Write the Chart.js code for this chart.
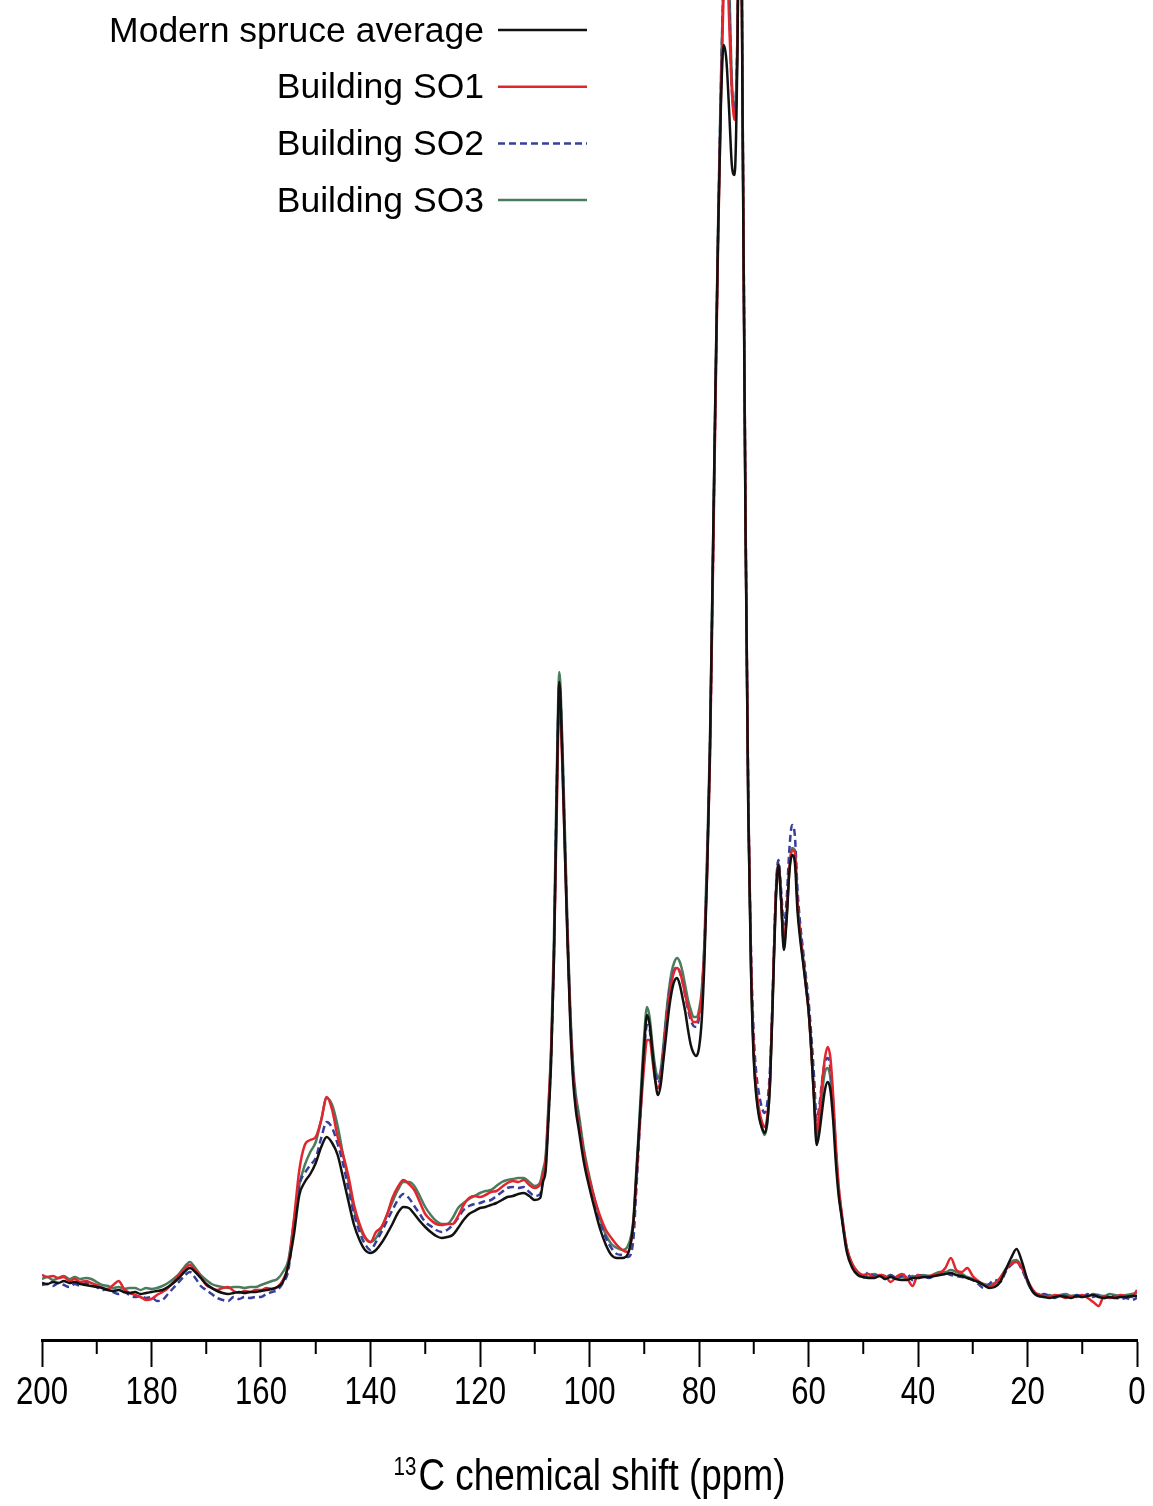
<!DOCTYPE html>
<html>
<head>
<meta charset="utf-8">
<title>13C CP/MAS NMR spectra</title>
<script src="https://cdn.jsdelivr.net/npm/chart.js@4.4.1/dist/chart.umd.min.js"></script>
<style>
  html, body { margin: 0; padding: 0; background: #fff; }
  #wrap { width: 1153px; height: 1506px; }
</style>
</head>
<body>
<div id="wrap"><canvas id="spectrum" width="1153" height="1506"></canvas></div>
<script>
// chemical shift grid (ppm), finer steps where the peaks are sharp
const shift = [
  200, 199, 198, 197, 196, 195, 194, 193, 192, 191,
  190, 189, 188, 187, 186, 185, 184, 183, 182, 181,
  180, 179, 178, 177, 176, 175, 174, 173, 172, 171,
  170, 169, 168, 167, 166, 165, 164, 163, 162, 161,
  160, 159, 158, 157, 156, 155, 154, 153, 152, 151,
  150, 149, 148, 147, 146, 145, 144, 143, 142, 141,
  140, 139, 138, 137, 136, 135, 134, 133, 132, 131,
  130, 129, 128, 127, 126, 125, 124, 123, 122, 121,
  120, 119, 118, 117, 116, 115, 114, 113, 112, 111,
  110, 109,
  108.5, 108, 107.5, 107, 106.5, 106, 105.5, 105, 104.5, 104, 103.5, 103, 102.5, 102,
  101, 100, 99, 98, 97, 96, 95, 94, 93, 92,
  91.5, 91, 90.5, 90, 89.5, 89, 88.5, 88, 87.5, 87,
  86.5, 86, 85.5, 85, 84.5, 84, 83.5, 83, 82.5, 82,
  81.5, 81, 80.5, 80, 79.5, 79, 78.5, 78, 77.5, 77,
  76.5, 76, 75.5, 75, 74.5, 74, 73.5, 73, 72.5, 72,
  71.5, 71, 70.5, 70, 69.5, 69, 68.5, 68, 67.5, 67,
  66.5, 66, 65.5, 65, 64.5, 64, 63.5, 63, 62.5, 62,
  61.5, 61, 60.5, 60, 59.5, 59, 58.5, 58, 57.5, 57,
  56.5, 56, 55.5, 55, 54.5, 54,
  53, 52, 51, 50, 49, 48, 47, 46, 45, 44,
  43, 42, 41, 40, 39, 38, 37, 36, 35, 34,
  33, 32, 31, 30, 29, 28, 27, 26, 25, 24,
  23, 22, 21, 20, 19, 18, 17, 16, 15, 14,
  13, 12, 11, 10, 9, 8, 7, 6, 5, 4,
  3, 2, 1, 0
];

// intensities (a.u.)
const modernSpruce = [
  1.7, 1.6, 1.8, 1.7, 1.9, 1.7, 1.8, 1.6, 1.5, 1.4,
  1.3, 1.2, 1.0, 0.9, 1.0, 0.8, 0.7, 0.8, 0.6, 0.7,
  0.8, 0.9, 1.0, 1.3, 1.7, 2.2, 2.8, 3.2, 2.8, 2.2,
  1.6, 1.2, 0.9, 0.7, 0.6, 0.7, 0.8, 0.7, 0.8, 0.8,
  0.9, 1.0, 1.1, 1.3, 1.8, 3.5, 6.5, 10.5, 11.8, 12.6,
  13.7, 15.3, 16.3, 15.7, 14.5, 12.2, 9.8, 7.5, 6.0, 5.0,
  4.7, 5.0, 5.7, 6.6, 7.6, 8.7, 9.3, 9.2, 8.6, 7.9,
  7.3, 6.8, 6.4, 6.2, 6.3, 6.5, 7.2, 8.0, 8.6, 8.9,
  9.2, 9.3, 9.5, 9.7, 10.0, 10.3, 10.4, 10.6, 10.7, 10.4,
  10.0, 10.2,
  11.8, 13.0, 18.0, 24.0, 34.0, 50.0, 61.8, 55.0, 45.0, 35.5, 27.5, 22.0, 19.0, 17.2,
  13.7, 11.2, 9.0, 7.0, 5.5, 4.5, 4.2, 4.2, 4.6, 7.7,
  12.0, 16.5, 21.0, 25.5, 28.5, 27.5, 24.8, 22.0, 20.5, 21.5,
  24.0, 26.5, 29.0, 30.8, 31.9, 32.2, 31.5, 30.2, 28.8, 27.0,
  25.5, 24.7, 24.4, 25.2, 28.0, 34.0, 43.0, 55.0, 73.0, 91.0,
  107.0, 119.5, 125.5, 124.0, 119.0, 113.5, 112.5, 124.0, 150.0, 115.0,
  77.0, 49.0, 33.0, 24.0, 20.2, 18.2, 17.2, 16.7, 18.0, 22.0,
  30.5, 39.5, 43.5, 40.0, 35.0, 38.0, 42.8, 44.5, 43.8, 38.8,
  36.0, 33.8, 31.5, 29.0, 25.2, 20.0, 15.5, 16.8, 19.0, 21.0,
  21.8, 21.0, 18.0, 13.7, 10.5, 8.5,
  4.8, 3.2, 2.5, 2.3, 2.2, 2.2, 2.4, 2.1, 2.3, 2.1,
  2.0, 2.0, 2.2, 2.2, 2.3, 2.3, 2.4, 2.5, 2.6, 2.7,
  2.5, 2.4, 2.2, 2.0, 1.8, 1.5, 1.2, 1.3, 1.8, 3.0,
  4.2, 5.1, 3.8, 2.0, 0.8, 0.4, 0.3, 0.2, 0.3, 0.4,
  0.3, 0.2, 0.4, 0.3, 0.4, 0.5, 0.3, 0.2, 0.3, 0.2,
  0.3, 0.3, 0.4, 0.4
];

const buildingSO1 = [
  2.5, 2.3, 2.4, 2.2, 2.3, 1.9, 2.1, 1.8, 1.9, 1.7,
  1.5, 1.2, 1.1, 1.5, 1.9, 1.1, 0.7, 0.5, 0.3, 0.0,
  0.1, 0.5, 0.8, 1.2, 1.8, 2.5, 3.1, 3.5, 3.0, 2.3,
  1.5, 1.2, 1.0, 1.2, 1.3, 0.9, 0.7, 0.9, 0.8, 1.0,
  1.0, 1.2, 1.1, 1.3, 2.0, 3.5, 8.0, 13.0, 15.5, 16.0,
  16.3, 18.0, 20.3, 19.0, 16.3, 14.5, 12.3, 9.5, 7.6, 6.3,
  5.8, 6.8, 7.3, 8.5, 10.2, 11.3, 12.0, 11.6, 11.0, 9.8,
  8.6, 8.0, 7.6, 7.5, 7.6, 7.6, 8.4, 9.5, 10.2, 10.4,
  10.3, 10.5, 10.8, 10.9, 11.3, 11.7, 11.9, 11.8, 12.0, 11.5,
  11.2, 11.6,
  12.5, 14.0, 19.0, 25.0, 34.0, 48.0, 60.3, 54.0, 45.0, 36.0, 28.0, 22.5, 19.5, 17.8,
  14.5, 12.0, 10.0, 8.3, 7.0, 6.2, 5.5, 5.0, 4.8, 7.5,
  11.5, 16.0, 20.0, 23.5, 26.0, 26.0, 24.0, 22.0, 21.2, 22.0,
  24.5, 27.5, 30.0, 31.8, 32.9, 33.2, 32.8, 31.8, 30.5, 29.3,
  28.3, 27.8, 27.8, 28.5, 30.5, 35.0, 43.0, 54.0, 71.0, 89.0,
  106.0, 120.0, 131.0, 136.0, 128.0, 121.0, 118.0, 125.0, 150.0, 116.0,
  78.0, 50.0, 34.0, 25.0, 21.0, 19.0, 17.8, 17.3, 18.5, 22.5,
  31.0, 40.0, 43.5, 40.0, 35.8, 38.5, 43.0, 45.0, 44.8, 39.5,
  36.5, 34.0, 31.5, 29.0, 25.0, 20.5, 16.7, 18.8, 21.8, 24.2,
  25.3, 24.2, 20.5, 15.5, 11.5, 9.0,
  5.2, 3.6, 2.8, 2.5, 2.6, 2.2, 2.5, 2.4, 1.8, 2.3,
  2.6, 2.2, 1.4, 2.5, 2.3, 2.4, 2.5, 2.7, 3.2, 4.2,
  3.0, 2.8, 3.2, 2.4, 1.9, 1.5, 1.3, 1.6, 2.2, 3.0,
  3.6, 3.8, 3.2, 2.0, 1.0, 0.5, 0.4, 0.3, 0.5, 0.4,
  0.2, 0.4, 0.3, 0.5, 0.2, -0.2, -0.6, 0.4, 0.2, 0.3,
  0.5, 0.4, 0.3, 1.0
];

const buildingSO2 = [
  1.5, 1.6, 1.4, 1.7, 1.5, 1.3, 1.6, 1.4, 1.7, 1.6,
  1.3, 1.0, 1.1, 0.8, 0.6, 0.8, 0.5, 0.3, 0.4, 0.2,
  0.3, -0.1, 0.0, 0.6, 1.2, 1.8, 2.4, 2.8, 2.2, 1.4,
  1.0, 0.6, 0.2, 0.0, -0.1, 0.3, 0.1, 0.3, 0.2, 0.3,
  0.3, 0.6, 0.8, 1.0, 1.7, 3.0, 7.5, 11.5, 12.7, 13.5,
  14.2, 16.2, 17.8, 17.2, 15.6, 13.6, 11.0, 8.6, 6.8, 5.6,
  5.0, 5.8, 6.8, 7.9, 9.0, 10.0, 10.6, 10.2, 9.4, 8.6,
  7.8, 7.4, 7.0, 6.8, 7.0, 7.5, 8.2, 9.0, 9.4, 9.6,
  9.7, 9.9, 10.0, 10.4, 10.8, 11.2, 11.3, 11.2, 11.3, 10.8,
  10.4, 10.6,
  12.0, 13.5, 18.5, 24.5, 34.5, 50.5, 61.5, 55.5, 46.0, 36.5, 28.5, 23.0, 19.8, 18.2,
  14.5, 12.0, 9.8, 7.8, 6.2, 5.2, 4.6, 4.5, 4.3, 6.0,
  10.5, 15.5, 20.5, 25.0, 27.5, 27.0, 24.8, 22.8, 21.7, 22.5,
  25.0, 28.0, 30.5, 32.0, 33.0, 33.3, 32.8, 31.8, 30.4, 29.0,
  28.0, 27.4, 27.3, 28.2, 30.5, 35.5, 44.0, 55.0, 72.0, 90.0,
  107.0, 121.0, 132.0, 137.0, 130.0, 121.0, 119.0, 126.0, 151.0, 117.0,
  79.0, 51.0, 35.0, 26.5, 22.5, 20.5, 19.2, 18.7, 19.8, 23.5,
  31.5, 40.5, 44.0, 41.0, 37.5, 40.0, 45.0, 47.5, 46.5, 41.0,
  37.5, 35.0, 32.5, 30.0, 26.5, 22.5, 18.0, 19.5, 22.0, 23.8,
  24.2, 23.2, 19.8, 15.0, 11.2, 8.8,
  5.0, 3.4, 2.6, 2.2, 2.8, 2.4, 2.6, 2.1, 2.5, 2.2,
  2.4, 2.6, 2.0, 2.5, 2.4, 2.2, 2.4, 2.6, 2.7, 2.5,
  2.4, 2.3, 2.2, 2.0, 1.6, 1.2, 1.6, 2.0, 1.8, 2.8,
  3.5, 3.8, 3.0, 1.8, 0.8, 0.4, 0.6, 0.4, 0.2, 0.5,
  0.4, 0.2, 0.5, 0.3, 0.6, 0.3, 0.5, 0.2, 0.5, 0.3,
  0.1, 0.2, 0.0, 0.2
];

const buildingSO3 = [
  2.1, 2.3, 2.0, 2.2, 2.4, 2.1, 2.3, 2.1, 2.2, 2.1,
  1.8, 1.5, 1.4, 1.2, 1.3, 1.1, 1.2, 1.2, 1.0, 1.2,
  1.1, 1.2, 1.4, 1.7, 2.1, 2.6, 3.3, 3.8, 3.2, 2.5,
  2.0, 1.6, 1.4, 1.3, 1.2, 1.3, 1.3, 1.2, 1.3, 1.3,
  1.5, 1.7, 1.9, 2.1, 2.8, 4.0, 7.8, 11.5, 13.5, 14.8,
  15.8, 18.0, 20.2, 19.5, 17.4, 14.5, 11.8, 9.0, 7.3, 6.2,
  5.8, 6.2, 7.2, 8.5, 9.8, 11.0, 11.8, 11.8, 11.4, 10.4,
  9.3, 8.5, 7.9, 7.6, 7.6, 8.2, 9.2, 9.7, 10.1, 10.4,
  10.7, 10.9, 11.0, 11.4, 11.8, 12.0, 12.1, 12.2, 12.2, 11.8,
  11.4, 11.8,
  13.0, 14.5, 19.5, 25.5, 36.0, 52.0, 62.8, 56.5, 47.0, 37.0, 29.0, 23.5, 20.5, 18.8,
  15.0, 12.3, 10.0, 8.0, 6.5, 5.6, 5.2, 5.0, 5.4, 8.0,
  12.5, 17.0, 22.0, 26.5, 29.3, 28.2, 25.5, 23.3, 22.2, 23.0,
  25.5, 28.5, 31.0, 32.8, 33.8, 34.2, 33.8, 32.8, 31.4, 30.0,
  29.0, 28.3, 28.3, 29.0, 31.0, 36.0, 45.0, 56.0, 73.0, 91.0,
  108.0, 122.0, 133.0, 138.0, 132.0, 122.0, 119.0, 126.0, 152.0, 117.0,
  78.0, 49.0, 33.0, 24.5, 20.5, 18.5, 17.2, 16.5, 17.8, 22.0,
  31.0, 40.0, 43.7, 40.0, 35.5, 38.3, 43.0, 45.2, 45.0, 39.8,
  36.8, 34.3, 31.8, 29.2, 25.0, 20.5, 16.0, 18.0, 20.8, 22.8,
  23.2, 22.2, 19.0, 14.5, 11.0, 8.7,
  5.2, 3.6, 2.8, 2.4, 2.3, 2.6, 2.4, 2.3, 2.5, 2.2,
  2.3, 2.2, 2.4, 2.3, 2.5, 2.4, 2.6, 2.8, 2.8, 3.0,
  2.8, 2.6, 2.3, 2.1, 1.8, 1.6, 1.5, 1.7, 2.2, 3.1,
  3.8, 4.0, 3.2, 1.8, 0.8, 0.6, 0.4, 0.5, 0.3, 0.5,
  0.6, 0.4, 0.5, 0.4, 0.4, 0.6, 0.5, 0.4, 0.6, 0.5,
  0.4, 0.5, 0.6, 0.7
];

const seriesNames = ['Modern spruce average', 'Building SO1', 'Building SO2', 'Building SO3'];
const seriesValues = [modernSpruce, buildingSO1, buildingSO2, buildingSO3];
const seriesColors = ['#111111', '#e3262e', '#363f9c', '#4b7c5e'];
const seriesDash = [[], [], [7, 4], []];

const axisTitleSup = '13';
const axisTitleMain = 'C chemical shift (ppm)';

// legend: right-aligned names with the line sample after them
const sideLegend = {
  id: 'sideLegend',
  afterDraw(chart) {
    const ctx = chart.ctx;
    const textRight = 484, lineStart = 498, lineEnd = 587;
    ctx.save();
    ctx.font = '35.5px "Liberation Sans", Arial, sans-serif';
    ctx.textAlign = 'right';
    ctx.textBaseline = 'middle';
    chart.data.datasets.forEach((ds, i) => {
      const y = 30 + i * 56.7;
      ctx.fillStyle = '#000';
      ctx.fillText(ds.label, textRight, y + 2);
      ctx.strokeStyle = ds.borderColor;
      ctx.lineWidth = 2.5;
      ctx.setLineDash(ds.borderDash || []);
      ctx.beginPath();
      ctx.moveTo(lineStart, y);
      ctx.lineTo(lineEnd, y);
      ctx.stroke();
    });
    ctx.restore();
  }
};

// minor tick marks, narrow tick labels and the axis title under the x axis
const shiftAxis = {
  id: 'shiftAxis',
  afterDraw(chart) {
    const xs = chart.scales.x;
    const ctx = chart.ctx;
    const top = chart.chartArea.bottom;
    const squeeze = 0.82;
    ctx.save();
    ctx.strokeStyle = '#000';
    ctx.lineWidth = 2;
    xs.ticks.forEach(t => {
      if (t.value % 20 === 0) return;
      const px = xs.getPixelForValue(t.value);
      ctx.beginPath();
      ctx.moveTo(px, top);
      ctx.lineTo(px, top + 14);
      ctx.stroke();
    });

    ctx.fillStyle = '#000';
    ctx.textBaseline = 'alphabetic';
    ctx.textAlign = 'center';
    ctx.font = '38px "Liberation Sans", Arial, sans-serif';
    xs.ticks.forEach(t => {
      if (t.value % 20 !== 0) return;
      const px = xs.getPixelForValue(t.value);
      ctx.save();
      ctx.translate(px, top + 64);
      ctx.scale(squeeze, 1);
      ctx.fillText(String(t.value), 0, 0);
      ctx.restore();
    });

    // title with a raised mass number
    const mainFont = '45px "Liberation Sans", Arial, sans-serif';
    const supFont = '25px "Liberation Sans", Arial, sans-serif';
    ctx.font = supFont;
    const supW = ctx.measureText(axisTitleSup).width * squeeze;
    ctx.font = mainFont;
    const mainW = ctx.measureText(axisTitleMain).width * squeeze;
    const centre = (chart.chartArea.left + chart.chartArea.right) / 2;
    const left = centre - (supW + 2 + mainW) / 2;
    const base = top + 150;
    ctx.textAlign = 'left';
    ctx.save();
    ctx.translate(left, base - 15);
    ctx.scale(squeeze, 1);
    ctx.font = supFont;
    ctx.fillText(axisTitleSup, 0, 0);
    ctx.restore();
    ctx.save();
    ctx.translate(left + supW + 2, base);
    ctx.scale(squeeze, 1);
    ctx.font = mainFont;
    ctx.fillText(axisTitleMain, 0, 0);
    ctx.restore();
    ctx.restore();
  }
};

new Chart(document.getElementById('spectrum'), {
  type: 'line',
  data: {
    datasets: seriesNames.map((name, i) => ({
      label: name,
      data: shift.map((x, j) => ({ x: x, y: seriesValues[i][j] })),
      borderColor: seriesColors[i],
      borderDash: seriesDash[i],
      borderWidth: 2.5,
      pointRadius: 0,
      fill: false,
      cubicInterpolationMode: 'monotone'
    }))
  },
  options: {
    responsive: false,
    animation: false,
    layout: { padding: { left: 42, right: 16, top: 0, bottom: 139 } },
    plugins: {
      legend: { display: false },
      tooltip: { enabled: false }
    },
    scales: {
      x: {
        type: 'linear',
        reverse: true,
        min: 0,
        max: 200,
        border: { display: true, color: '#000', width: 3 },
        grid: {
          drawOnChartArea: false,
          drawTicks: true,
          tickLength: 27,
          tickWidth: 2,
          tickColor: c => (c.tick && c.tick.value % 20 === 0) ? '#000' : 'rgba(0,0,0,0)'
        },
        ticks: {
          display: false,
          stepSize: 10,
          autoSkip: false
        },
        title: { display: false }
      },
      y: {
        display: false,
        min: -4,
        max: 130
      }
    }
  },
  plugins: [sideLegend, shiftAxis]
});
</script>
</body>
</html>
